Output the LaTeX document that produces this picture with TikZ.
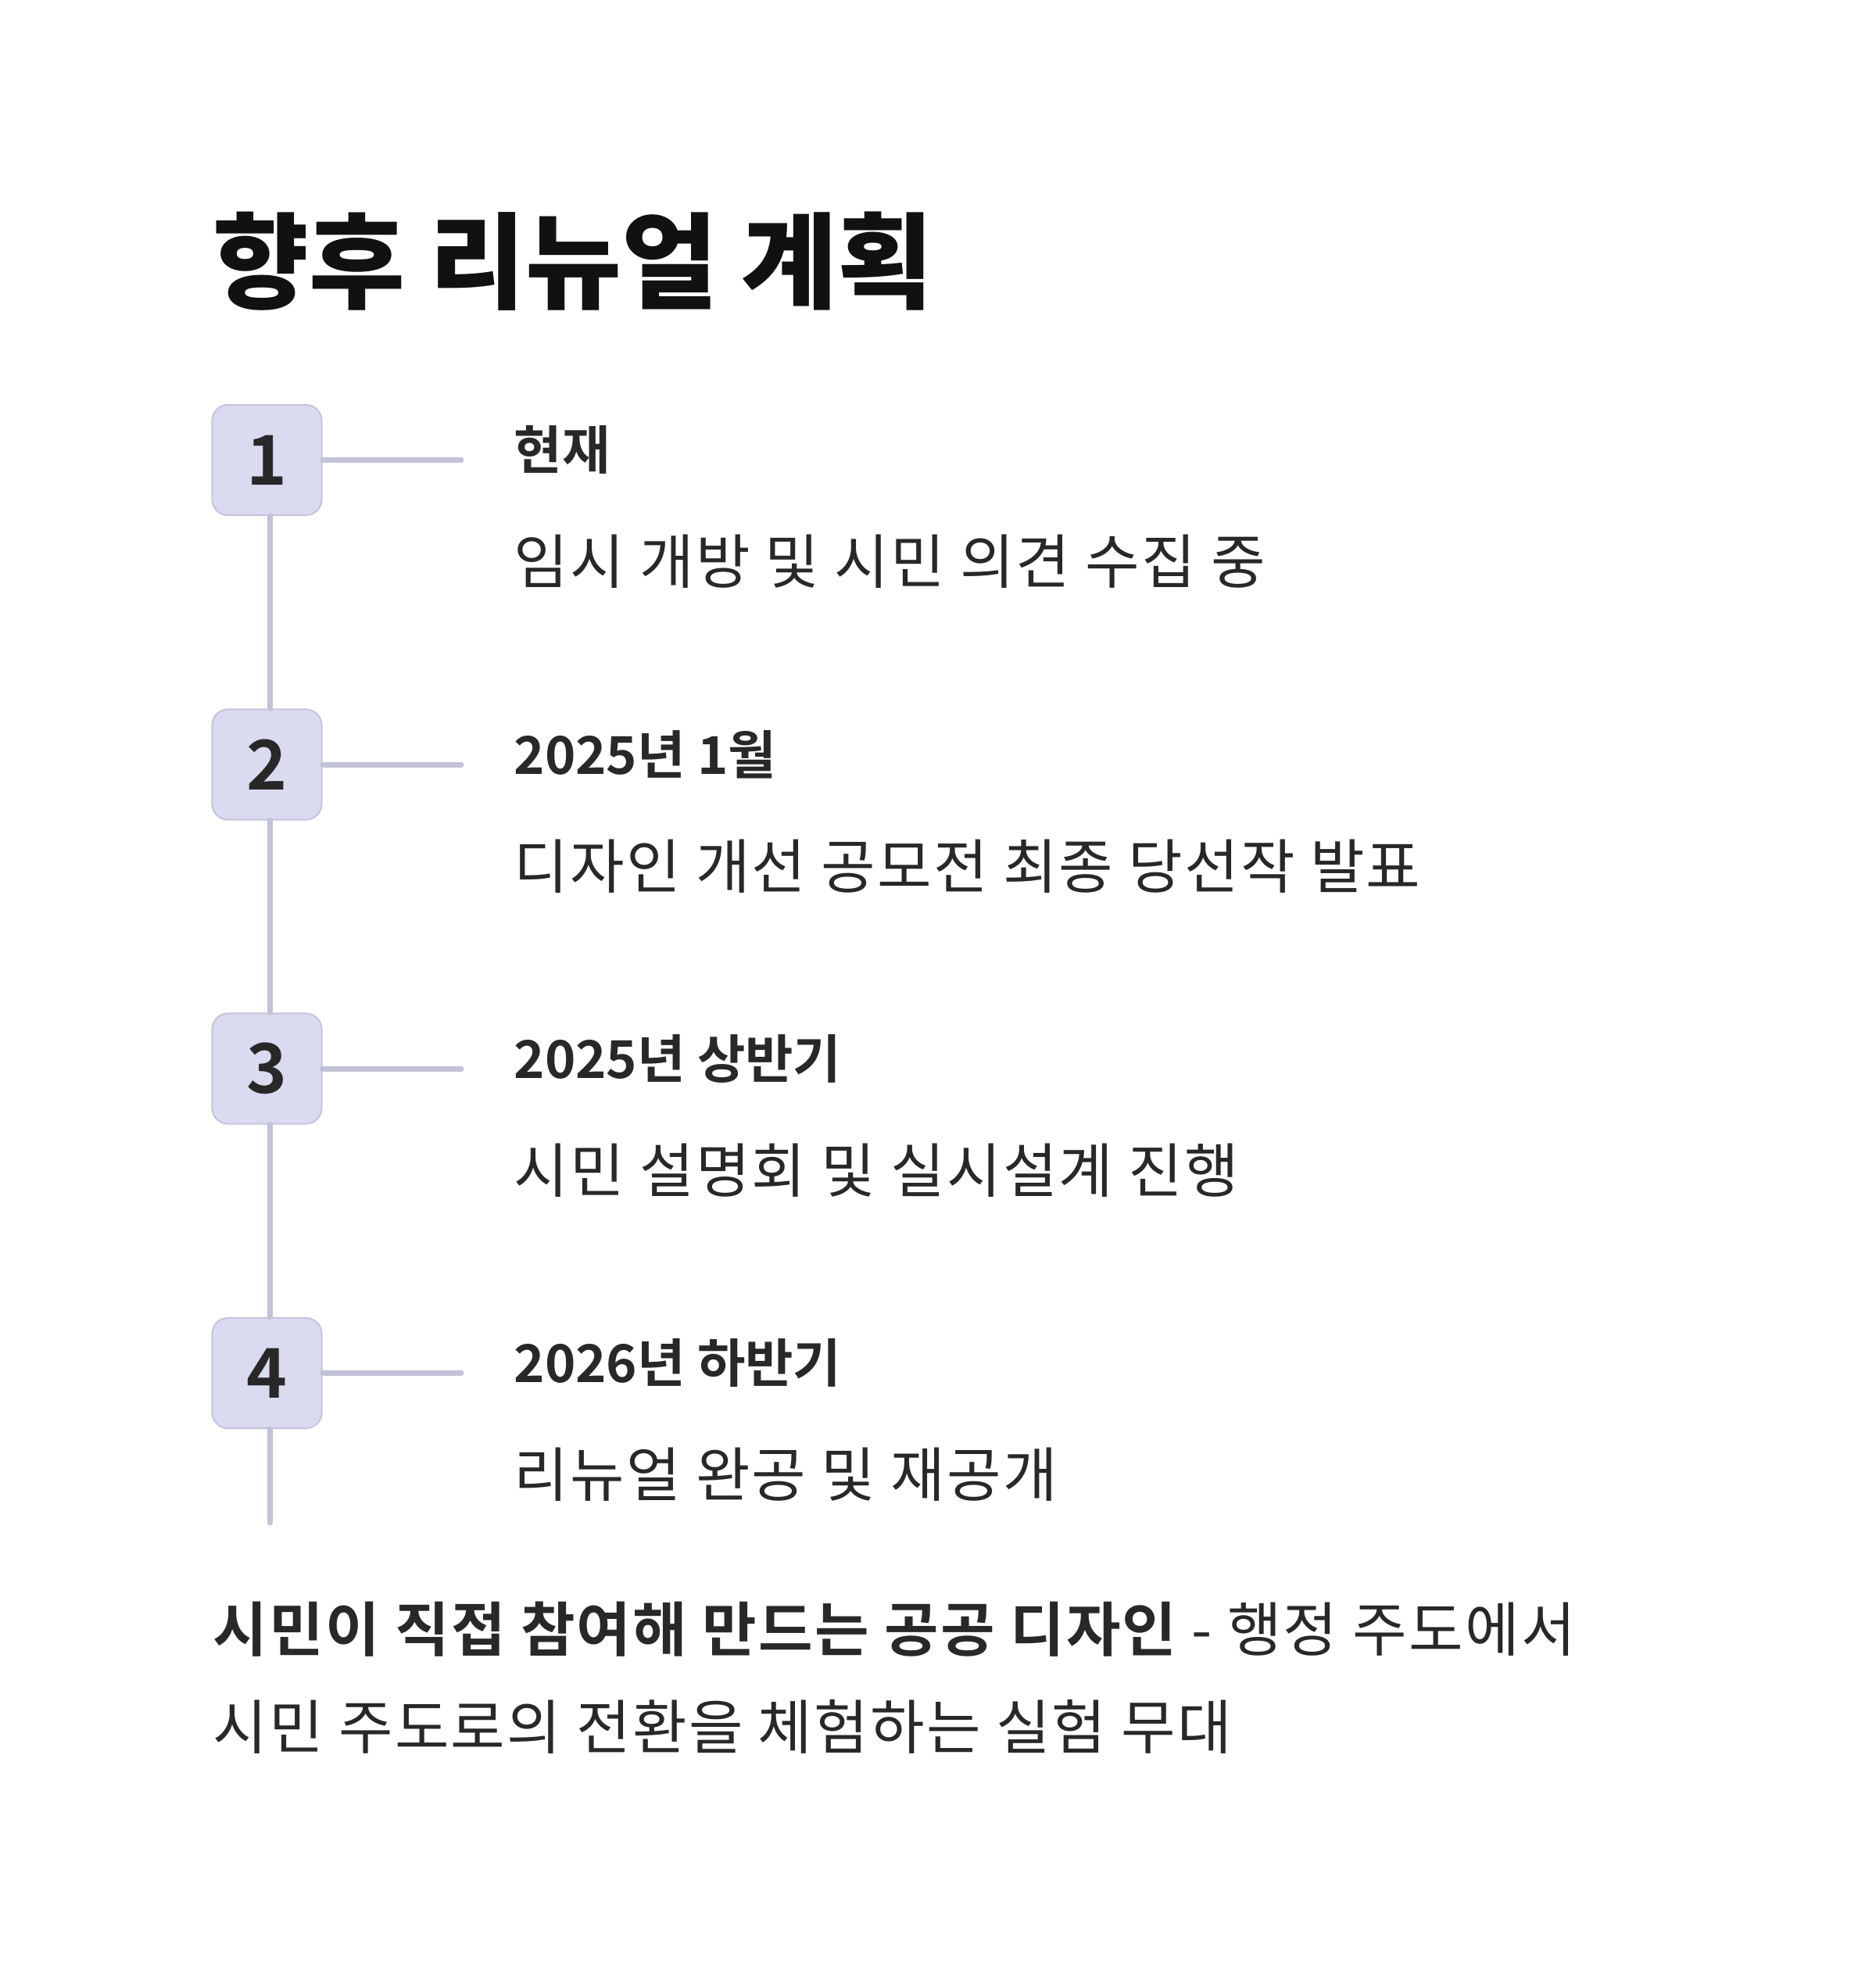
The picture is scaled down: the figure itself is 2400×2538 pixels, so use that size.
\documentclass[tikz,border=0pt]{standalone}
\usepackage{fontspec}
\usepackage{xcolor}
\usepackage{tikz}
\setmainfont{Noto Sans CJK KR}[LetterSpace=3]
\newfontfamily\titlefont{Noto Sans CJK KR Black}[LetterSpace=0]
\newfontfamily\headfont{Noto Sans CJK KR Bold}
\newfontfamily\boldfont{Noto Sans CJK KR Bold}[LetterSpace=3]
\definecolor{planInk}{RGB}{17,17,17}
\definecolor{planText}{RGB}{40,40,40}
\definecolor{planBox}{RGB}{218,218,240}
\definecolor{planBoxEdge}{RGB}{196,196,222}
\definecolor{planRail}{RGB}{194,194,216}

\begin{document}
\begin{tikzpicture}[x=0.01cm,y=-0.01cm,
    numbox/.style={draw=planBoxEdge, fill=planBox, line width=0.02cm, rounded corners=0.2cm,
        minimum width=1.40cm, minimum height=1.41cm, inner sep=0pt, text=planText,
        font=\headfont\fontsize{25}{25}\selectfont},
    rail/.style={draw=planRail, line width=0.07cm, line cap=round},
    headtxt/.style={anchor=base west, inner sep=0pt, text=planText, font=\headfont\fontsize{19}{22}\selectfont},
    bodytxt/.style={anchor=base west, inner sep=0pt, text=planText, font=\fontsize{21.5}{25}\selectfont}]
    \useasboundingbox (0,0) rectangle (2400,2538);

    % title
    \node[anchor=base west, inner sep=0pt, text=planInk, font=\titlefont\fontsize{38}{40}\selectfont]
        (title) at (272,384) {향후 리뉴얼 계획};

    % timeline rail
    \coordinate (railEnd) at (345.5,1948);
    \coordinate (tick1) at (590,588.5);
    \coordinate (tick2) at (590,978);
    \coordinate (tick3) at (590,1367);
    \coordinate (tick4) at (590,1756.5);

    \node[numbox] (n1) at (341.5,588.5) {1};
    \node[numbox] (n2) at (341.5,978) {2};
    \node[numbox] (n3) at (341.5,1367) {3};
    \node[numbox] (n4) at (341.5,1756.5) {4};

    \draw[rail] ([xshift=0.04cm]n1.south) -- ([xshift=0.04cm]n2.north);
    \draw[rail] ([xshift=0.04cm]n2.south) -- ([xshift=0.04cm]n3.north);
    \draw[rail] ([xshift=0.04cm]n3.south) -- ([xshift=0.04cm]n4.north);
    \draw[rail] ([xshift=0.04cm]n4.south) -- (railEnd);

    \draw[rail] (n1.east) -- (tick1);
    \draw[rail] (n2.east) -- (tick2);
    \draw[rail] (n3.east) -- (tick3);
    \draw[rail] (n4.east) -- (tick4);

    % steps
    \node[headtxt] (h1) at (657,600.5) {현재};
    \node[bodytxt] (b1) at (657,746.5) {임시 개방 및 시민 의견 수집 중};
    \node[headtxt] (h2) at (657,990) {2025년 1월};
    \node[bodytxt] (b2) at (657,1136) {디자인 개선 공모전 최종 당선작 발표};
    \node[headtxt] (h3) at (657,1379) {2025년 상반기};
    \node[bodytxt] (b3) at (657,1525) {시민 설명회 및 실시설계 진행};
    \node[headtxt] (h4) at (657,1768.5) {2026년 하반기};
    \node[bodytxt] (b4) at (657,1914.5) {리뉴얼 완공 및 재공개};

    % closing note
    \node[bodytxt] (note1) at (272,2112) {{\boldfont 시민이 직접 참여해 만드는 공공 디자인} - 행정 주도에서};
    \node[bodytxt] (note2) at (272,2237) {시민 주도로의 전환을 체험하는 실험 무대};
\end{tikzpicture}
\end{document}
